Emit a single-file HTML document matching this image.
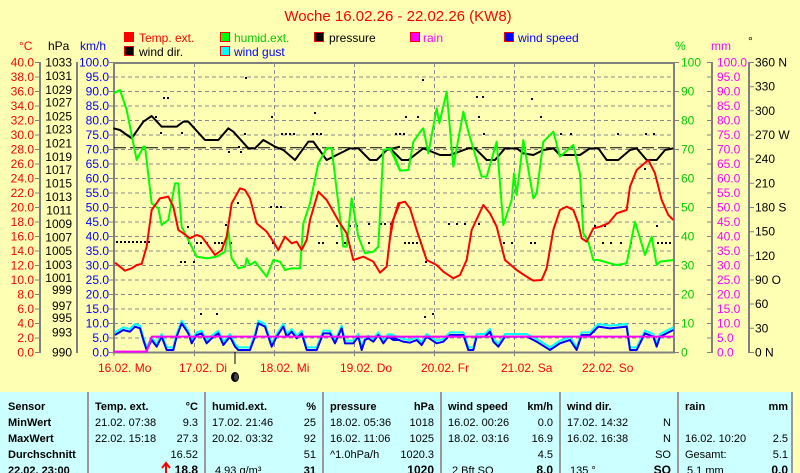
<!DOCTYPE html>
<html><head><meta charset="utf-8"><style>
html,body{margin:0;padding:0;background:#FFFFB4;}
svg{display:block;font-family:"Liberation Sans",sans-serif;}
</style></head><body>
<svg width="800" height="473" viewBox="0 0 800 473" xmlns="http://www.w3.org/2000/svg">
<rect width="800" height="473" fill="#FFFFB4"/>
<text x="398" y="21" fill="#f00" font-size="15" text-anchor="middle">Woche 16.02.26 - 22.02.26 (KW8)</text>
<!-- legend -->
<g font-size="12">
<rect x="124.5" y="32.5" width="9" height="9" fill="#f00" stroke="#f00"/><text x="139" y="42" fill="#f00">Temp. ext.</text>
<rect x="220.5" y="32.5" width="9" height="9" fill="#0f0" stroke="#f00"/><text x="234" y="42" fill="#0c0">humid.ext.</text>
<rect x="314.5" y="32.5" width="9" height="9" fill="#000" stroke="#f00"/><text x="329" y="42" fill="#000">pressure</text>
<rect x="410.5" y="32.5" width="9" height="9" fill="#f0f" stroke="#f00"/><text x="423" y="42" fill="#f0f">rain</text>
<rect x="504.5" y="32.5" width="9" height="9" fill="#00f" stroke="#f00"/><text x="518" y="42" fill="#00f">wind speed</text>
<rect x="124.5" y="46.5" width="9" height="9" fill="#000" stroke="#f00"/><text x="139" y="56" fill="#000">wind dir.</text>
<rect x="220.5" y="46.5" width="9" height="9" fill="#0ff" stroke="#f00"/><text x="234" y="56" fill="#00f">wind gust</text>
</g>
<!-- unit headers -->
<g font-size="12">
<text x="19" y="50" fill="#f00">°C</text><text x="48" y="50" fill="#000">hPa</text><text x="80" y="50" fill="#00f">km/h</text>
<text x="675" y="50" fill="#0c0">%</text><text x="711" y="50" fill="#f0f">mm</text><text x="748" y="45" fill="#000">°</text>
</g>
<!-- grid -->
<g stroke="#888" stroke-dasharray="4,3" stroke-width="1">
<line x1="114" y1="77" x2="674" y2="77"/><line x1="114" y1="91.5" x2="674" y2="91.5"/><line x1="114" y1="106" x2="674" y2="106"/><line x1="114" y1="120.5" x2="674" y2="120.5"/><line x1="114" y1="135" x2="674" y2="135"/><line x1="114" y1="149.5" x2="674" y2="149.5"/><line x1="114" y1="164" x2="674" y2="164"/><line x1="114" y1="178.5" x2="674" y2="178.5"/><line x1="114" y1="193" x2="674" y2="193"/><line x1="114" y1="207.5" x2="674" y2="207.5"/><line x1="114" y1="222" x2="674" y2="222"/><line x1="114" y1="236.5" x2="674" y2="236.5"/><line x1="114" y1="251" x2="674" y2="251"/><line x1="114" y1="265.5" x2="674" y2="265.5"/><line x1="114" y1="280" x2="674" y2="280"/><line x1="114" y1="294.5" x2="674" y2="294.5"/><line x1="114" y1="309" x2="674" y2="309"/><line x1="114" y1="323.5" x2="674" y2="323.5"/><line x1="114" y1="338" x2="674" y2="338"/>
<line x1="194.5" y1="63" x2="194.5" y2="352"/><line x1="274.5" y1="63" x2="274.5" y2="352"/><line x1="354.5" y1="63" x2="354.5" y2="352"/><line x1="434.5" y1="63" x2="434.5" y2="352"/><line x1="514.5" y1="63" x2="514.5" y2="352"/><line x1="594.5" y1="63" x2="594.5" y2="352"/>
</g>
<!-- axes -->
<g stroke="#808080" stroke-width="2" fill="none">
<rect x="114" y="63" width="560" height="289.5"/>
<line x1="40" y1="62" x2="40" y2="353"/><line x1="77" y1="62" x2="77" y2="353"/>
<line x1="712" y1="62" x2="712" y2="353"/><line x1="749" y1="62" x2="749" y2="353"/>
</g>
<g stroke="#808080" stroke-width="1">
<path d="M35 62.5h5M35 77h5M35 91.5h5M35 106h5M35 120.5h5M35 135h5M35 149.5h5M35 164h5M35 178.5h5M35 193h5M35 207.5h5M35 222h5M35 236.5h5M35 251h5M35 265.5h5M35 280h5M35 294.5h5M35 309h5M35 323.5h5M35 338h5M35 352.5h5"/>
<path d="M109 62.5h5M109 77h5M109 91.5h5M109 106h5M109 120.5h5M109 135h5M109 149.5h5M109 164h5M109 178.5h5M109 193h5M109 207.5h5M109 222h5M109 236.5h5M109 251h5M109 265.5h5M109 280h5M109 294.5h5M109 309h5M109 323.5h5M109 338h5M109 352.5h5"/>
<path d="M674 62.5h5M674 91.5h5M674 120.5h5M674 149.5h5M674 178.5h5M674 207.5h5M674 236.5h5M674 265.5h5M674 294.5h5M674 323.5h5M674 352.5h5"/>
<path d="M707 62.5h5M707 77h5M707 91.5h5M707 106h5M707 120.5h5M707 135h5M707 149.5h5M707 164h5M707 178.5h5M707 193h5M707 207.5h5M707 222h5M707 236.5h5M707 251h5M707 265.5h5M707 280h5M707 294.5h5M707 309h5M707 323.5h5M707 338h5M707 352.5h5"/>
<path d="M749 62.5h5M749 86.7h5M749 110.8h5M749 135h5M749 159h5M749 183.3h5M749 207.5h5M749 231.7h5M749 255.8h5M749 280h5M749 304h5M749 328.3h5M749 352.5h5"/>
<path d="M114 352v4M194.5 352v4M274.5 352v4M354.5 352v4M434.5 352v4M514.5 352v4M594.5 352v4"/>
</g>
<line x1="235" y1="352" x2="235" y2="364" stroke="#000" stroke-width="1"/>
<ellipse cx="235" cy="377" rx="4" ry="5" fill="#000"/><ellipse cx="236" cy="377" rx="2" ry="3.5" fill="#444"/>
<!-- left labels -->
<g font-size="12" text-anchor="end" dominant-baseline="central">
<g fill="#f00"><text x="34" y="62.5">40.0</text><text x="34" y="77">38.0</text><text x="34" y="91.5">36.0</text><text x="34" y="106">34.0</text><text x="34" y="120.5">32.0</text><text x="34" y="135">30.0</text><text x="34" y="149.5">28.0</text><text x="34" y="164">26.0</text><text x="34" y="178.5">24.0</text><text x="34" y="193">22.0</text><text x="34" y="207.5">20.0</text><text x="34" y="222">18.0</text><text x="34" y="236.5">16.0</text><text x="34" y="251">14.0</text><text x="34" y="265.5">12.0</text><text x="34" y="280">10.0</text><text x="34" y="294.5">8.0</text><text x="34" y="309">6.0</text><text x="34" y="323.5">4.0</text><text x="34" y="338">2.0</text><text x="34" y="352.5">0.0</text></g>
<g fill="#000"><text x="72" y="62.5">1033</text><text x="72" y="76">1031</text><text x="72" y="90">1029</text><text x="72" y="102.5">1027</text><text x="72" y="116.5">1025</text><text x="72" y="129.5">1023</text><text x="72" y="143.5">1021</text><text x="72" y="157">1019</text><text x="72" y="170">1017</text><text x="72" y="183.5">1015</text><text x="72" y="197">1013</text><text x="72" y="210.5">1011</text><text x="72" y="224">1009</text><text x="72" y="237.5">1007</text><text x="72" y="251">1005</text><text x="72" y="265">1003</text><text x="72" y="278">1001</text><text x="72" y="290">999</text><text x="72" y="306">997</text><text x="72" y="318">995</text><text x="72" y="332.5">993</text><text x="72" y="352.5">990</text></g>
<g fill="#00f"><text x="109" y="62.5">100.0</text><text x="109" y="77">95.0</text><text x="109" y="91.5">90.0</text><text x="109" y="106">85.0</text><text x="109" y="120.5">80.0</text><text x="109" y="135">75.0</text><text x="109" y="149.5">70.0</text><text x="109" y="164">65.0</text><text x="109" y="178.5">60.0</text><text x="109" y="193">55.0</text><text x="109" y="207.5">50.0</text><text x="109" y="222">45.0</text><text x="109" y="236.5">40.0</text><text x="109" y="251">35.0</text><text x="109" y="265.5">30.0</text><text x="109" y="280">25.0</text><text x="109" y="294.5">20.0</text><text x="109" y="309">15.0</text><text x="109" y="323.5">10.0</text><text x="109" y="338">5.0</text><text x="109" y="352.5">0.0</text></g>
</g>
<g font-size="12" dominant-baseline="central">
<g fill="#0c0"><text x="681" y="62.5">100</text><text x="681" y="91.5">90</text><text x="681" y="120.5">80</text><text x="681" y="149.5">70</text><text x="681" y="178.5">60</text><text x="681" y="207.5">50</text><text x="681" y="236.5">40</text><text x="681" y="265.5">30</text><text x="681" y="294.5">20</text><text x="681" y="323.5">10</text><text x="681" y="352.5">0</text></g>
<g fill="#f0f"><text x="717" y="62.5">100.0</text><text x="717" y="77">95.0</text><text x="717" y="91.5">90.0</text><text x="717" y="106">85.0</text><text x="717" y="120.5">80.0</text><text x="717" y="135">75.0</text><text x="717" y="149.5">70.0</text><text x="717" y="164">65.0</text><text x="717" y="178.5">60.0</text><text x="717" y="193">55.0</text><text x="717" y="207.5">50.0</text><text x="717" y="222">45.0</text><text x="717" y="236.5">40.0</text><text x="717" y="251">35.0</text><text x="717" y="265.5">30.0</text><text x="717" y="280">25.0</text><text x="717" y="294.5">20.0</text><text x="717" y="309">15.0</text><text x="717" y="323.5">10.0</text><text x="717" y="338">5.0</text><text x="717" y="352.5">0.0</text></g>
<g fill="#000"><text x="755" y="62.5">360 N</text><text x="755" y="86.7">330</text><text x="755" y="110.8">300</text><text x="755" y="135">270 W</text><text x="755" y="159">240</text><text x="755" y="183.3">210</text><text x="755" y="207.5">180 S</text><text x="755" y="231.7">150</text><text x="755" y="255.8">120</text><text x="755" y="280">90  O</text><text x="755" y="304">60</text><text x="755" y="328.3">30</text><text x="755" y="352.5">0   N</text></g>
</g>
<!-- x labels -->
<g font-size="12" fill="#f00">
<text x="98" y="372">16.02.  Mo</text><text x="179" y="372">17.02.  Di</text><text x="260" y="372">18.02.  Mi</text><text x="340" y="372">19.02.  Do</text><text x="421" y="372">20.02.  Fr</text><text x="501" y="372">21.02.  Sa</text><text x="582" y="372">22.02.  So</text>
</g>
<!-- dashed pressure reference -->
<line x1="114" y1="147.7" x2="674" y2="147.7" stroke="#000" stroke-dasharray="12,4" stroke-width="1"/>
<!-- wind dir dots -->
<g fill="#000">
<rect x="116" y="241" width="2" height="2"/><rect x="120" y="241" width="2" height="2"/><rect x="124" y="241" width="2" height="2"/><rect x="128" y="241" width="2" height="2"/><rect x="132" y="241" width="2" height="2"/><rect x="136" y="241" width="2" height="2"/><rect x="140" y="241" width="2" height="2"/><rect x="144" y="241" width="2" height="2"/><rect x="148" y="241" width="2" height="2"/>
<rect x="163" y="97" width="2" height="2"/><rect x="167" y="97" width="2" height="2"/><rect x="160" y="132" width="2" height="2"/><rect x="155" y="116" width="2" height="2"/><rect x="181" y="132" width="2" height="2"/>
<rect x="180" y="261" width="2" height="2"/><rect x="184" y="261" width="2" height="2"/><rect x="193" y="261" width="2" height="2"/><rect x="187" y="226" width="2" height="2"/>
<rect x="200" y="313" width="2" height="2"/><rect x="216" y="313" width="2" height="2"/><rect x="188" y="242" width="2" height="2"/><rect x="196" y="242" width="2" height="2"/>
<rect x="200" y="242" width="2" height="2"/><rect x="206" y="242" width="2" height="2"/><rect x="214" y="242" width="2" height="2"/><rect x="225" y="224" width="2" height="2"/><rect x="221" y="242" width="2" height="2"/>
<rect x="218" y="242" width="2" height="2"/><rect x="230" y="242" width="2" height="2"/><rect x="238" y="146" width="2" height="2"/><rect x="228" y="151" width="2" height="2"/>
<rect x="244" y="133" width="2" height="2"/><rect x="240" y="151" width="2" height="2"/><rect x="245" y="77" width="2" height="2"/><rect x="237" y="202" width="2" height="2"/>
<rect x="270" y="206" width="2" height="2"/><rect x="276" y="206" width="2" height="2"/><rect x="280" y="206" width="2" height="2"/><rect x="272" y="242" width="2" height="2"/>
<rect x="281" y="133" width="2" height="2"/><rect x="285" y="133" width="2" height="2"/><rect x="289" y="133" width="2" height="2"/><rect x="293" y="133" width="2" height="2"/>
<rect x="271" y="116" width="2" height="2"/><rect x="312" y="133" width="2" height="2"/><rect x="316" y="133" width="2" height="2"/><rect x="320" y="133" width="2" height="2"/><rect x="314" y="112" width="2" height="2"/>
<rect x="318" y="242" width="2" height="2"/><rect x="322" y="242" width="2" height="2"/><rect x="336" y="242" width="2" height="2"/><rect x="344" y="242" width="2" height="2"/>
<rect x="336" y="225" width="2" height="2"/><rect x="349" y="225" width="2" height="2"/><rect x="356" y="225" width="2" height="2"/><rect x="368" y="242" width="2" height="2"/>
<rect x="368" y="223" width="2" height="2"/><rect x="380" y="223" width="2" height="2"/><rect x="384" y="223" width="2" height="2"/><rect x="390" y="223" width="2" height="2"/>
<rect x="404" y="242" width="2" height="2"/><rect x="408" y="242" width="2" height="2"/><rect x="412" y="242" width="2" height="2"/><rect x="416" y="242" width="2" height="2"/><rect x="420" y="242" width="2" height="2"/>
<rect x="405" y="116" width="2" height="2"/><rect x="417" y="116" width="2" height="2"/><rect x="395" y="133" width="2" height="2"/><rect x="399" y="133" width="2" height="2"/><rect x="403" y="133" width="2" height="2"/>
<rect x="422" y="79" width="2" height="2"/><rect x="425" y="261" width="2" height="2"/><rect x="432" y="313" width="2" height="2"/>
<rect x="448" y="223" width="2" height="2"/><rect x="456" y="223" width="2" height="2"/><rect x="464" y="223" width="2" height="2"/><rect x="478" y="223" width="2" height="2"/>
<rect x="476" y="96" width="2" height="2"/><rect x="482" y="96" width="2" height="2"/><rect x="478" y="116" width="2" height="2"/><rect x="483" y="133" width="2" height="2"/>
<rect x="503" y="242" width="2" height="2"/><rect x="511" y="242" width="2" height="2"/><rect x="530" y="242" width="2" height="2"/><rect x="534" y="242" width="2" height="2"/>
<rect x="531" y="98" width="2" height="2"/><rect x="540" y="116" width="2" height="2"/><rect x="560" y="133" width="2" height="2"/><rect x="570" y="133" width="2" height="2"/>
<rect x="582" y="205" width="2" height="2"/><rect x="594" y="225" width="2" height="2"/><rect x="604" y="225" width="2" height="2"/><rect x="602" y="242" width="2" height="2"/><rect x="610" y="242" width="2" height="2"/>
<rect x="620" y="242" width="2" height="2"/><rect x="630" y="242" width="2" height="2"/><rect x="617" y="133" width="2" height="2"/><rect x="645" y="133" width="2" height="2"/><rect x="653" y="133" width="2" height="2"/>
<rect x="657" y="242" width="2" height="2"/><rect x="661" y="242" width="2" height="2"/><rect x="665" y="242" width="2" height="2"/><rect x="669" y="242" width="2" height="2"/><rect x="656" y="225" width="2" height="2"/>
<rect x="424" y="316" width="2" height="2"/><rect x="644" y="168" width="2" height="2"/>
</g>
<!-- series left half -->
<g transform="translate(110,60) scale(0.33333)" fill="none" stroke-width="6" stroke-linejoin="round">
<polyline stroke="#0ff" transform="translate(0,-8)" points="15,825 40,810 60,815 75,800 90,805 100,840 110,870 125,840 140,860 155,830 170,870 190,870 200,830 215,790 235,820 245,850 260,825 275,820 290,850 305,835 325,820 340,855 360,830 375,860 385,870 420,870 435,830 445,790 465,800 485,860 500,830 520,800 530,830 545,815 560,835 575,820 590,870 620,870 640,820 660,820 675,850 695,805 705,850 730,850 745,830 755,870 765,840 775,835 790,845 805,825 820,850 835,830 850,840 870,840"/>
<polyline stroke="#00f" points="15,825 40,810 60,815 75,800 90,805 100,840 110,870 125,840 140,860 155,830 170,870 190,870 200,830 215,790 235,820 245,850 260,825 275,820 290,850 305,835 325,820 340,855 360,830 375,860 385,870 420,870 435,830 445,790 465,800 485,860 500,830 520,800 530,830 545,815 560,835 575,820 590,870 620,870 640,820 660,820 675,850 695,805 705,850 730,850 745,830 755,870 765,840 775,835 790,845 805,825 820,850 835,830 850,840 870,840"/>
<polyline stroke="#f0f" points="12,875 110,875 125,830 870,830"/>
<polyline stroke="#000" points="10,205 30,210 65,235 100,185 125,168 155,200 200,200 220,185 235,185 285,240 325,240 355,205 370,215 415,265 435,265 460,240 495,260 520,270 555,300 595,245 610,245 650,300 680,285 720,265 745,265 780,300 800,300 830,270 870,260"/>
<polyline stroke="#0f0" points="10,100 30,90 50,150 80,300 100,260 105,260 125,430 145,445 155,495 175,480 195,370 205,370 215,500 240,550 260,590 290,595 320,590 345,575 355,510 365,595 385,625 405,620 410,595 420,615 435,605 470,650 490,600 510,605 525,630 545,625 570,625 580,490 600,430 625,310 650,265 665,265 685,430 700,560 710,560 725,415 745,530 765,580 790,575 805,560 820,270 845,265 870,330"/>
<polyline stroke="#f00" points="15,608 45,632 65,625 80,615 95,612 110,560 125,450 150,415 175,410 190,440 205,510 220,520 240,535 260,525 275,530 290,550 315,585 335,570 350,530 365,430 390,385 405,390 420,415 440,490 470,515 490,545 505,570 525,530 545,550 560,545 575,570 590,540 600,480 625,395 650,420 690,490 710,520 730,600 760,590 790,605 810,638 830,620 845,490 870,428"/>
</g>
<!-- series right half -->
<g transform="translate(390,60) scale(0.33333)" fill="none" stroke-width="6" stroke-linejoin="round">
<polyline stroke="#0ff" transform="translate(0,-8)" points="0,830 40,845 60,848 80,840 95,855 110,830 140,850 160,845 180,825 220,825 235,870 250,870 260,830 285,830 300,815 310,845 325,860 345,830 380,830 410,830 440,845 480,870 510,850 540,840 560,870 575,825 600,825 625,800 660,805 710,800 720,870 740,870 765,820 790,830 800,860 810,830 850,810"/>
<polyline stroke="#00f" points="0,830 40,845 60,848 80,840 95,855 110,830 140,850 160,845 180,825 220,825 235,870 250,870 260,830 285,830 300,815 310,845 325,860 345,830 380,830 410,830 440,845 480,870 510,850 540,840 560,870 575,825 600,825 625,800 660,805 710,800 720,870 740,870 765,820 790,830 800,860 810,830 850,810"/>
<polyline stroke="#f0f" points="0,830 850,830"/>
<polyline stroke="#000" points="0,265 35,300 55,300 100,265 150,285 180,285 235,265 255,265 290,300 315,300 345,265 380,265 400,280 430,285 460,270 490,265 510,285 570,285 600,265 625,265 650,300 685,300 720,270 740,265 770,300 800,300 825,270 850,265"/>
<polyline stroke="#0f0" points="0,265 30,332 55,330 70,245 95,210 100,205 115,280 140,145 148,190 170,95 190,320 220,155 235,215 275,350 290,350 320,245 340,495 365,420 372,340 380,405 400,240 410,300 430,415 440,400 460,245 490,215 510,290 550,255 570,340 580,520 595,545 610,600 625,600 660,610 680,615 710,610 735,485 765,585 785,530 800,615 810,605 850,600"/>
<polyline stroke="#f00" points="0,535 10,480 25,430 45,425 60,445 80,510 110,600 140,615 160,635 190,655 210,645 230,600 245,510 280,435 300,460 320,500 345,600 380,630 410,650 430,662 455,660 470,625 490,510 510,450 530,440 550,450 565,490 575,535 590,545 610,505 630,500 655,490 680,460 710,450 720,380 740,330 775,300 795,340 815,420 835,465 850,480"/>
</g>
<!-- table -->
<rect x="0" y="392" width="791" height="81" fill="#CCFFFF"/>
<rect x="791" y="392" width="2" height="81" fill="#999"/>
<g stroke="#999" stroke-width="2"><line x1="88" y1="392" x2="88" y2="473"/><line x1="205" y1="392" x2="205" y2="473"/><line x1="323" y1="392" x2="323" y2="473"/><line x1="441" y1="392" x2="441" y2="473"/><line x1="560" y1="392" x2="560" y2="473"/><line x1="678" y1="392" x2="678" y2="473"/></g>
<g font-size="11" fill="#000">
<g font-weight="bold"><text x="8" y="410">Sensor</text><text x="8" y="426">MinWert</text><text x="8" y="442">MaxWert</text><text x="8" y="458">Durchschnitt</text><text x="8" y="474">22.02. 23:00</text>
<text x="95" y="410">Temp. ext.</text><text x="198" y="410" text-anchor="end">°C</text>
<text x="212" y="410">humid.ext.</text><text x="316" y="410" text-anchor="end">%</text>
<text x="330" y="410">pressure</text><text x="434" y="410" text-anchor="end">hPa</text>
<text x="448" y="410">wind speed</text><text x="553" y="410" text-anchor="end">km/h</text>
<text x="567" y="410">wind dir.</text>
<text x="685" y="410">rain</text><text x="788" y="410" text-anchor="end">mm</text>
<text x="198" y="474" text-anchor="end" font-size="12">18.8</text><text x="316" y="474" text-anchor="end">31</text><text x="434" y="474" text-anchor="end" font-size="12">1020</text><text x="553" y="474" text-anchor="end" font-size="12">8.0</text><text x="671" y="474" text-anchor="end" font-size="12">SO</text><text x="788" y="474" text-anchor="end" font-size="12">0.0</text></g>
<text x="95" y="426">21.02.  07:38</text><text x="198" y="426" text-anchor="end">9.3</text>
<text x="95" y="442">22.02.  15:18</text><text x="198" y="442" text-anchor="end">27.3</text>
<text x="198" y="458" text-anchor="end">16.52</text>
<text x="212" y="426">17.02.  21:46</text><text x="316" y="426" text-anchor="end">25</text>
<text x="212" y="442">20.02.  03:32</text><text x="316" y="442" text-anchor="end">92</text>
<text x="316" y="458" text-anchor="end">51</text><text x="215" y="474">4.93 g/m³</text>
<text x="330" y="426">18.02.  05:36</text><text x="434" y="426" text-anchor="end">1018</text>
<text x="330" y="442">16.02.  11:06</text><text x="434" y="442" text-anchor="end">1025</text>
<text x="330" y="458">^1.0hPa/h</text><text x="434" y="458" text-anchor="end">1020.3</text>
<text x="448" y="426">16.02.  00:26</text><text x="553" y="426" text-anchor="end">0.0</text>
<text x="448" y="442">18.02.  03:16</text><text x="553" y="442" text-anchor="end">16.9</text>
<text x="553" y="458" text-anchor="end">4.5</text><text x="452" y="474">2 Bft SO</text>
<text x="567" y="426">17.02.  14:32</text><text x="671" y="426" text-anchor="end">N</text>
<text x="567" y="442">16.02.  16:38</text><text x="671" y="442" text-anchor="end">N</text>
<text x="671" y="458" text-anchor="end">SO</text><text x="570" y="474">135 °</text>
<text x="685" y="442">16.02.  10:20</text><text x="788" y="442" text-anchor="end">2.5</text>
<text x="685" y="458">Gesamt:</text><text x="788" y="458" text-anchor="end">5.1</text>
<text x="687" y="474">5.1 mm</text>
</g>
<path d="M166 473v-9M162 468l4-5 4 5" stroke="#f00" stroke-width="2" fill="none"/>
</svg>
</body></html>
